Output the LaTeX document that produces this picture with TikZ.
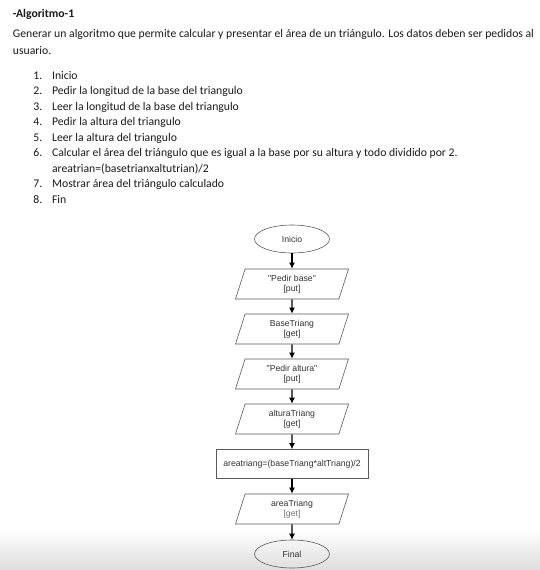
\documentclass[tikz,border=0pt]{standalone}
\usepackage{fontspec}
\setmainfont{Carlito}
\newfontfamily\chartfont{Liberation Sans}
\usetikzlibrary{positioning,arrows.meta,shapes.geometric}

\begin{document}
\begin{tikzpicture}[x=1pt,y=1pt,->,>={Latex[length=6pt,width=6pt]},auto,node distance=45pt,
  thick,
  text line/.style={anchor=base west,inner sep=0pt,font=\fontsize{11.7}{13}\selectfont,text=black!90},
  term node/.style={ellipse,draw=black!65,line width=0.6pt,minimum width=75pt,minimum height=28pt,
    inner sep=0pt,font=\chartfont\fontsize{8.7}{10.5}\selectfont,text=black!80},
  io node/.style={trapezium,trapezium left angle=65,trapezium right angle=115,
    trapezium stretches body,draw=black!65,line width=0.6pt,minimum width=113pt,minimum height=30pt,
    inner sep=1pt,align=center,font=\chartfont\fontsize{8.7}{10.5}\selectfont,text=black!80},
  proc node/.style={rectangle,draw=black!65,line width=0.6pt,minimum width=152pt,minimum height=29pt,
    inner sep=1pt,font=\chartfont\fontsize{8.7}{10.5}\selectfont,text=black!80}]

  \useasboundingbox (0,0) rectangle (540,-570);
  \shade[top color=white,bottom color=black!13] (0,-528) rectangle (540,-570);

  % enunciado
  \node[text line,font=\fontsize{11.7}{13}\selectfont\bfseries] (titulo) at (12.5,-17.3) {-Algoritmo-1};
  \node[text line] (enun1) at (12.5,-37) {Generar un algoritmo que permite calcular y presentar el área de un triángulo. Los datos deben ser pedidos al};
  \node[text line] (enun2) at (12.5,-54.3) {usuario.};

  % pasos
  \node[text line] (n1) at (33,-79) {1.};
  \node[text line] (p1) at (51.7,-79) {Inicio};
  \node[text line] (n2) at (33,-94.5) {2.};
  \node[text line] (p2) at (51.7,-94.5) {Pedir la longitud de la base del triangulo};
  \node[text line] (n3) at (33,-110) {3.};
  \node[text line] (p3) at (51.7,-110) {Leer la longitud de la base del triangulo};
  \node[text line] (n4) at (33,-125.5) {4.};
  \node[text line] (p4) at (51.7,-125.5) {Pedir la altura del triangulo};
  \node[text line] (n5) at (33,-141) {5.};
  \node[text line] (p5) at (51.7,-141) {Leer la altura del triangulo};
  \node[text line] (n6) at (33,-156.5) {6.};
  \node[text line] (p6) at (51.7,-156.5) {Calcular el área del triángulo que es igual a la base por su altura y todo dividido por 2.};
  \node[text line] (p6b) at (51.7,-172) {areatrian=(basetrianxaltutrian)/2};
  \node[text line] (n7) at (33,-187.5) {7.};
  \node[text line] (p7) at (51.7,-187.5) {Mostrar área del triángulo calculado};
  \node[text line] (n8) at (33,-203) {8.};
  \node[text line] (p8) at (51.7,-203) {Fin};

  % diagrama de flujo
  \node[term node] (inicio) at (292,-239) {Inicio};
  \node[io node] (pedirbase) [below of=inicio] {"Pedir base"\\ {[put]}};
  \node[io node] (basetriang) [below of=pedirbase] {BaseTriang\\ {[get]}};
  \node[io node] (pediraltura) [below of=basetriang] {"Pedir altura"\\ {[put]}};
  \node[io node] (alturatriang) [below of=pediraltura] {alturaTriang\\ {[get]}};
  \node[proc node] (calculo) [below of=alturatriang] {areatriang=(baseTriang*altTriang)/2};
  \node[io node] (areatriang) [below of=calculo] {areaTriang\\ {\color{black!55}[get]}};
  \node[term node] (final) [below of=areatriang] {Final};

  \path[line width=1.2pt,black]
    (inicio) edge (pedirbase)
    (pedirbase) edge (basetriang)
    (basetriang) edge (pediraltura)
    (pediraltura) edge (alturatriang)
    (alturatriang) edge (calculo)
    (calculo) edge (areatriang)
    (areatriang) edge (final);
\end{tikzpicture}
\end{document}
